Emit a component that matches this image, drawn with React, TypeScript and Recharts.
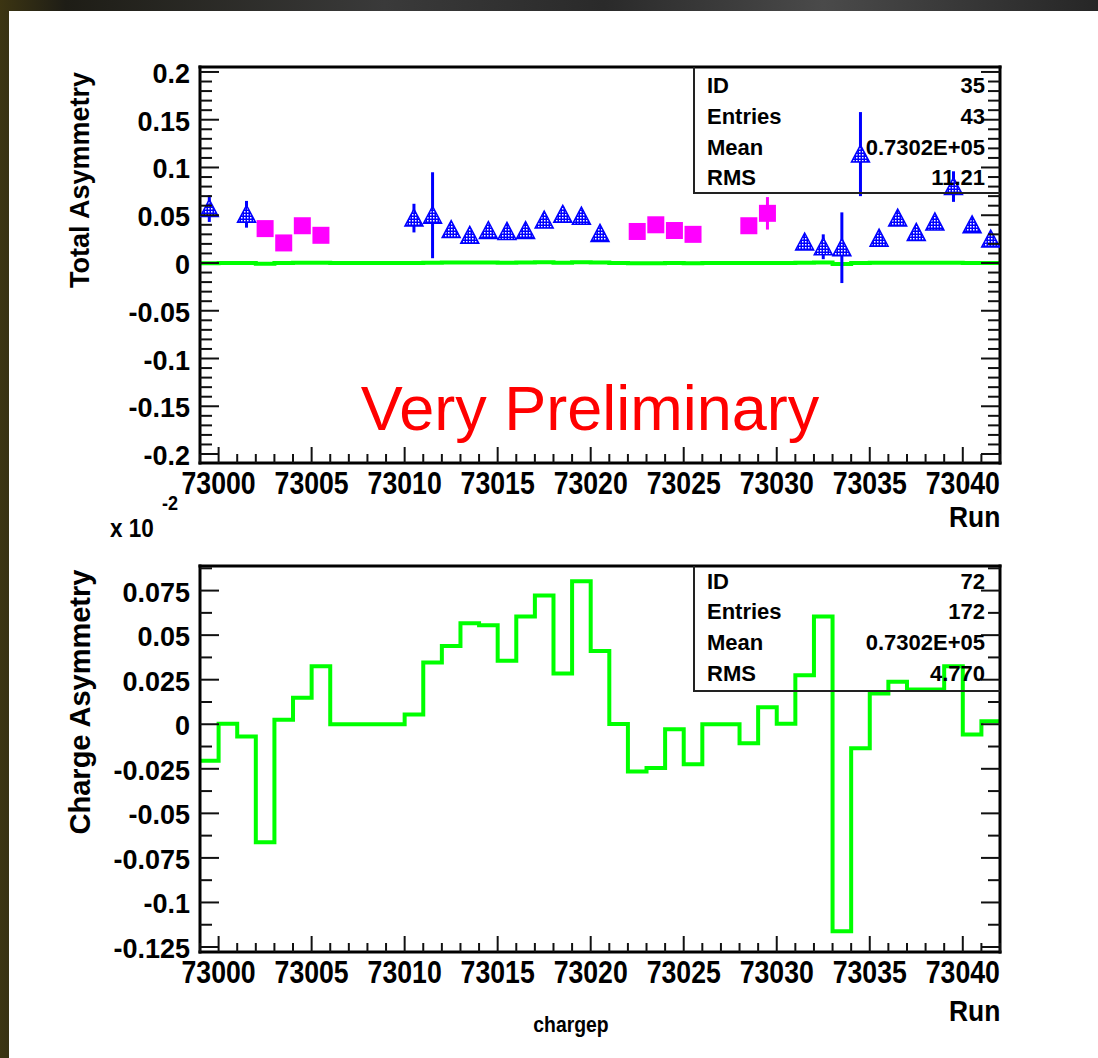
import { ComposedChart, ErrorBar, Line, Scatter, XAxis, YAxis } from "recharts";

const RUN_MIN = 72999;
const RUN_MAX = 73042;

// total asymmetry, runs drawn with triangles
const triRuns = [
  72999, 73001, 73010, 73011, 73012, 73013, 73014, 73015, 73016, 73017, 73018, 73019, 73020,
  73031, 73032, 73033, 73034, 73035, 73036, 73037, 73038, 73039, 73040, 73041,
];
const triAsym = [
  0.057, 0.051, 0.047, 0.05, 0.035, 0.029, 0.034, 0.033, 0.034, 0.045, 0.051, 0.049, 0.031,
  0.022, 0.017, 0.016, 0.114, 0.026, 0.047, 0.032, 0.043, 0.08, 0.04, 0.025,
];
const triErr = [
  0.014, 0.014, 0.015, 0.045, 0.005, 0.004, 0.004, 0.004, 0.004, 0.007, 0.008, 0.006, 0.005,
  0.005, 0.013, 0.037, 0.044, 0.005, 0.006, 0.005, 0.006, 0.016, 0.006, 0.006,
];

// total asymmetry, runs drawn with squares
const sqRuns = [73002, 73003, 73004, 73005, 73022, 73023, 73024, 73025, 73028, 73029];
const sqAsym = [0.036, 0.021, 0.039, 0.029, 0.033, 0.04, 0.034, 0.03, 0.039, 0.052];
const sqErr = [0.005, 0.004, 0.005, 0.004, 0.004, 0.005, 0.005, 0.004, 0.006, 0.017];

// charge asymmetry per run bin (72999 ... 73041), in units of 1e-2
const chargeAsym = [
  -0.0205, 0.0003, -0.0069, -0.0662, 0.0025, 0.0149, 0.0326, 0, 0, 0, 0, 0.0055, 0.0347,
  0.0439, 0.0567, 0.0556, 0.0356, 0.0605, 0.0722, 0.0285, 0.0803, 0.0411, 0.0002, -0.0265,
  -0.0246, -0.0028, -0.0224, 0, 0, -0.0107, 0.0096, 0.0003, 0.0275, 0.0605, -0.1161, -0.0135,
  0.0172, 0.0238, 0.0195, 0.0195, 0.0326, -0.0058, 0.0017,
];

const runLabels = ["73000", "73005", "73010", "73015", "73020", "73025", "73030", "73035", "73040"];
const totalYLabels = ["-0.2", "-0.15", "-0.1", "-0.05", "0", "0.05", "0.1", "0.15", "0.2"];
const chargeYLabels = ["-0.125", "-0.1", "-0.075", "-0.05", "-0.025", "0", "0.025", "0.05", "0.075"];

const statsTotal = [["ID", "35"], ["Entries", "43"], ["Mean", "0.7302E+05"], ["RMS", "11.21"]];
const statsCharge = [["ID", "72"], ["Entries", "172"], ["Mean", "0.7302E+05"], ["RMS", "4.770"]];

const FONT = "'Liberation Sans', Arial, sans-serif";
const GREEN = "#00ff00";
const BLUE = "#0000ff";
const MAGENTA = "#ff00ff";

const triData = triRuns.map((r, i) => ({ x: r + 0.5, y: triAsym[i], e: triErr[i] }));
const sqData = sqRuns.map((r, i) => ({ x: r + 0.5, y: sqAsym[i], e: sqErr[i] }));

// histogram outline: one point per bin edge, last value repeated to close the final bin
function stepPoints(scale: number) {
  const pts = chargeAsym.map((v, i) => ({ x: RUN_MIN + i, y: v * scale }));
  pts.push({ x: RUN_MAX, y: chargeAsym[chargeAsym.length - 1] * scale });
  return pts;
}

const runTicks: number[] = [];
for (let r = RUN_MIN; r <= RUN_MAX; r++) runTicks.push(r);

const totalTicks: number[] = [];
for (let i = -20; i <= 20; i++) totalTicks.push(i / 100);

const chargeTicks: number[] = [];
for (let i = -10; i <= 7; i++) chargeTicks.push(i * 0.0125);

const near = (a: number, b: number) => Math.abs(a - b) < 1e-9;

// ticks point inwards, like the frame of a PAW plot
function xTick(side: "top" | "bottom") {
  return (p: any) => {
    const { x, y, payload } = p;
    const v = payload.value as number;
    const major = v % 5 === 0;
    const dir = side === "bottom" ? -1 : 1;
    const len = major ? 16 : 9;
    const label = side === "bottom" ? runLabels.find((l) => Number(l) === v) : undefined;
    return (
      <g>
        <line x1={x} y1={y} x2={x} y2={y + dir * len} stroke="#111" strokeWidth={2} />
        {label && (
          <text
            transform={`translate(${x},${y + 31}) scale(0.86,1)`}
            textAnchor="middle"
            fontSize={31}
            fontWeight="bold"
            fontFamily={FONT}
            fill="#000"
          >
            {label}
          </text>
        )}
      </g>
    );
  };
}

function yTick(side: "left" | "right", labels: string[]) {
  return (p: any) => {
    const { x, y, payload } = p;
    const v = payload.value as number;
    const label = labels.find((l) => near(Number(l), v));
    const dir = side === "left" ? 1 : -1;
    const len = label ? 19 : 12;
    return (
      <g>
        <line x1={x} y1={y} x2={x + dir * len} y2={y} stroke="#111" strokeWidth={2} />
        {side === "left" && label && (
          <text
            x={x - 10}
            y={y + 11}
            textAnchor="end"
            fontSize={27}
            fontWeight="bold"
            fontFamily={FONT}
            fill="#000"
          >
            {label}
          </text>
        )}
      </g>
    );
  };
}

function Triangle(p: any) {
  const { cx, cy } = p;
  if (cx == null || cy == null) return null;
  const pts = `${cx},${cy - 9} ${cx - 9},${cy + 8} ${cx + 9},${cy + 8}`;
  return (
    <g>
      <defs>
        <pattern id="triDots" width="3" height="3" patternUnits="userSpaceOnUse">
          <rect width="3" height="3" fill={BLUE} />
          <rect x="1" y="1" width="1.5" height="1.5" fill="#fff" />
        </pattern>
      </defs>
      <polygon points={pts} fill="url(#triDots)" stroke={BLUE} strokeWidth={1.5} />
    </g>
  );
}

function Square(p: any) {
  const { cx, cy } = p;
  if (cx == null || cy == null) return null;
  return <rect x={cx - 8.5} y={cy - 8.5} width={17} height={17} fill={MAGENTA} />;
}

const frame = { stroke: "#000", strokeWidth: 3, strokeLinecap: "square" as const };

function StatsBox({ top, height, rows, rowTops }: { top: number; height: number; rows: string[][]; rowTops: number[] }) {
  return (
    <div
      style={{
        position: "absolute",
        left: 693,
        top,
        width: 307,
        height,
        borderLeft: "2px solid #222",
        borderBottom: "2px solid #222",
        boxSizing: "border-box",
        fontFamily: FONT,
        fontWeight: "bold",
        fontSize: 22,
        color: "#000",
      }}
    >
      {rows.map(([k, v], i) => (
        <div
          key={k}
          style={{
            position: "absolute",
            left: 12,
            right: 15,
            top: rowTops[i],
            transform: "translateY(-50%)",
            lineHeight: 1,
            display: "flex",
            justifyContent: "space-between",
          }}
        >
          <span>{k}</span>
          <span>{v}</span>
        </div>
      ))}
    </div>
  );
}

const textStyle = (extra: React.CSSProperties): React.CSSProperties => ({
  position: "absolute",
  fontFamily: FONT,
  fontWeight: "bold",
  color: "#000",
  whiteSpace: "nowrap",
  lineHeight: 1,
  ...extra,
});

function RunPlot({ top, height, margin, yDomain, yTicks, yLabels, children }: any) {
  return (
    <div style={{ position: "absolute", left: 0, top }}>
      <ComposedChart width={1098} height={height} margin={margin}>
        <XAxis
          xAxisId={0}
          dataKey="x"
          type="number"
          domain={[RUN_MIN, RUN_MAX]}
          allowDataOverflow
          ticks={runTicks}
          interval={0}
          height={57}
          tickSize={0}
          tickMargin={0}
          tickLine={false}
          axisLine={frame}
          tick={xTick("bottom")}
        />
        <XAxis
          xAxisId="t"
          orientation="top"
          type="number"
          domain={[RUN_MIN, RUN_MAX]}
          allowDataOverflow
          ticks={runTicks}
          interval={0}
          height={1}
          tickSize={0}
          tickMargin={0}
          tickLine={false}
          axisLine={frame}
          tick={xTick("top")}
        />
        <YAxis
          yAxisId={0}
          dataKey="y"
          type="number"
          domain={yDomain}
          allowDataOverflow
          ticks={yTicks}
          interval={0}
          width={120}
          tickSize={0}
          tickMargin={0}
          tickLine={false}
          axisLine={frame}
          tick={yTick("left", yLabels)}
        />
        <YAxis
          yAxisId="r"
          orientation="right"
          type="number"
          domain={yDomain}
          allowDataOverflow
          ticks={yTicks}
          interval={0}
          width={1}
          tickSize={0}
          tickMargin={0}
          tickLine={false}
          axisLine={frame}
          tick={yTick("right", yLabels)}
        />
        {children}
      </ComposedChart>
    </div>
  );
}

export default function App() {
  return (
    <div
      style={{
        position: "absolute",
        left: 0,
        top: 0,
        width: 1098,
        height: 1058,
        overflow: "hidden",
        background:
          "linear-gradient(90deg, #3c3512 0%, #1e1d16 6%, #3a3a3a 35%, #2a2a2a 55%, #4a4a4a 75%, #262626 100%)",
      }}
    >
      <div style={{ position: "absolute", left: 9, top: 11, right: 0, bottom: 0, background: "#fff" }} />

      <RunPlot
        top={0}
        height={520}
        margin={{ top: 66, right: 97, bottom: 0, left: 80 }}
        yDomain={[-0.2094, 0.2052]}
        yTicks={totalTicks}
        yLabels={totalYLabels}
      >
        <Line
          data={stepPoints(0.01)}
          dataKey="y"
          type="stepAfter"
          stroke={GREEN}
          strokeWidth={4}
          dot={false}
          isAnimationActive={false}
        />
        <Scatter data={sqData} shape={(p: any) => <Square {...p} />} isAnimationActive={false}>
          <ErrorBar dataKey="e" direction="y" width={0} stroke={MAGENTA} strokeWidth={3} />
        </Scatter>
        <Scatter data={triData} shape={(p: any) => <Triangle {...p} />} isAnimationActive={false}>
          <ErrorBar dataKey="e" direction="y" width={0} stroke={BLUE} strokeWidth={3} />
        </Scatter>
      </RunPlot>

      <RunPlot
        top={500}
        height={540}
        margin={{ top: 65, right: 97, bottom: 31, left: 80 }}
        yDomain={[-0.1278, 0.0888]}
        yTicks={chargeTicks}
        yLabels={chargeYLabels}
      >
        <Line
          data={stepPoints(1)}
          dataKey="y"
          type="stepAfter"
          stroke={GREEN}
          strokeWidth={4}
          dot={false}
          isAnimationActive={false}
        />
      </RunPlot>

      <StatsBox top={67} height={127} rows={statsTotal} rowTops={[19, 50, 81, 111]} />
      <StatsBox top={566} height={126} rows={statsCharge} rowTops={[16, 46, 77, 108]} />

      <div style={textStyle({ left: 80, top: 180, fontSize: 27, transform: "translate(-50%,-50%) rotate(-90deg)" })}>
        Total Asymmetry
      </div>
      <div style={textStyle({ left: 80, top: 702, fontSize: 29, transform: "translate(-50%,-50%) rotate(-90deg)" })}>
        Charge Asymmetry
      </div>

      <div style={textStyle({ right: 98, top: 502, fontSize: 30, transform: "scaleX(0.88)", transformOrigin: "right top" })}>
        Run
      </div>
      <div style={textStyle({ right: 98, top: 996, fontSize: 30, transform: "scaleX(0.88)", transformOrigin: "right top" })}>
        Run
      </div>

      <div style={textStyle({ left: 110, top: 528, fontSize: 25, transform: "translateY(-50%) scaleX(0.9)", transformOrigin: "left center" })}>
        x 10
      </div>
      <div style={textStyle({ left: 162, top: 503, fontSize: 20, transform: "translateY(-50%) scaleX(0.9)", transformOrigin: "left center" })}>
        -2
      </div>

      <div style={textStyle({ left: 571, top: 1025, fontSize: 22, transform: "translate(-50%,-50%) scaleX(0.88)" })}>
        chargep
      </div>

      <div
        style={{
          position: "absolute",
          left: 590,
          top: 408,
          transform: "translate(-50%,-50%)",
          fontFamily: FONT,
          fontSize: 63,
          color: "#ff0000",
          whiteSpace: "nowrap",
          lineHeight: 1,
        }}
      >
        Very Preliminary
      </div>
    </div>
  );
}
